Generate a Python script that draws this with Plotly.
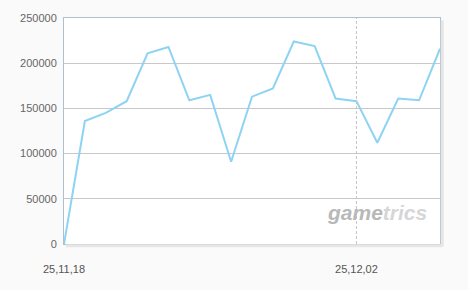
import plotly.graph_objects as go

dates = ["2025-11-18", "2025-11-19", "2025-11-20", "2025-11-21", "2025-11-22", "2025-11-23",
         "2025-11-24", "2025-11-25", "2025-11-26", "2025-11-27", "2025-11-28", "2025-11-29",
         "2025-11-30", "2025-12-01", "2025-12-02", "2025-12-03", "2025-12-04", "2025-12-05",
         "2025-12-06"]
values = [0, 136000, 145000, 158000, 211000, 218000, 159000, 165000, 91000, 163000,
          172000, 224000, 219000, 161000, 158000, 112000, 161000, 159000, 216000]
tick_dates = ["2025-11-18", "2025-12-02"]
tick_labels = ["25,11,18", "25,12,02"]
y_ticks = [0, 50000, 100000, 150000, 200000, 250000]

fig = go.Figure()
fig.add_trace(go.Scatter(x=dates, y=values, mode="lines",
                         line=dict(color="#8fd3f3", width=2), hoverinfo="skip"))

fig.add_vline(x="2025-12-02", line=dict(color="#c4c4c4", width=1, dash="3px,2px"))

# shadow
fig.add_shape(type="line", xref="paper", yref="paper", x0=1.006, x1=1.006, y0=-0.01, y1=0.99,
              line=dict(color="#e6e6e6", width=3))
fig.add_shape(type="line", xref="paper", yref="paper", x0=0.005, x1=1.006, y0=-0.008, y1=-0.008,
              line=dict(color="#e6e6e6", width=3))

fig.add_annotation(xref="paper", yref="paper", x=0.97, y=0.08, xanchor="right", yanchor="bottom",
                   text="<b><i><span style='color:#b8b8b8'>game</span><span style='color:#d6d6d6'>trics</span></i></b>",
                   showarrow=False, font=dict(family="Liberation Sans, Arial", size=21))

fig.update_layout(
    width=468, height=290,
    margin=dict(l=64, r=28, t=16, b=46),
    paper_bgcolor="#fafafa", plot_bgcolor="#ffffff",
    showlegend=False,
    font=dict(family="Liberation Sans, Arial, sans-serif", size=11, color="#666666"),
    xaxis=dict(type="date", range=["2025-11-18", "2025-12-06"], tickvals=tick_dates,
               ticktext=tick_labels, showgrid=False, zeroline=False,
               showline=True, mirror=True, linecolor="#aebfd0", linewidth=1,
               ticks="", ticklabelstandoff=15, tickfont=dict(size=11, color="#555555")),
    yaxis=dict(range=[0, 250000], tickvals=y_ticks, ticktext=[str(v) for v in y_ticks],
               showgrid=True, gridcolor="#c8c8c8", gridwidth=1, zeroline=False,
               showline=True, mirror=True, linecolor="#aebfd0", linewidth=1,
               ticks="", ticklabelstandoff=4, tickfont=dict(size=11, color="#666666")),
)

fig.write_html("out.html")
